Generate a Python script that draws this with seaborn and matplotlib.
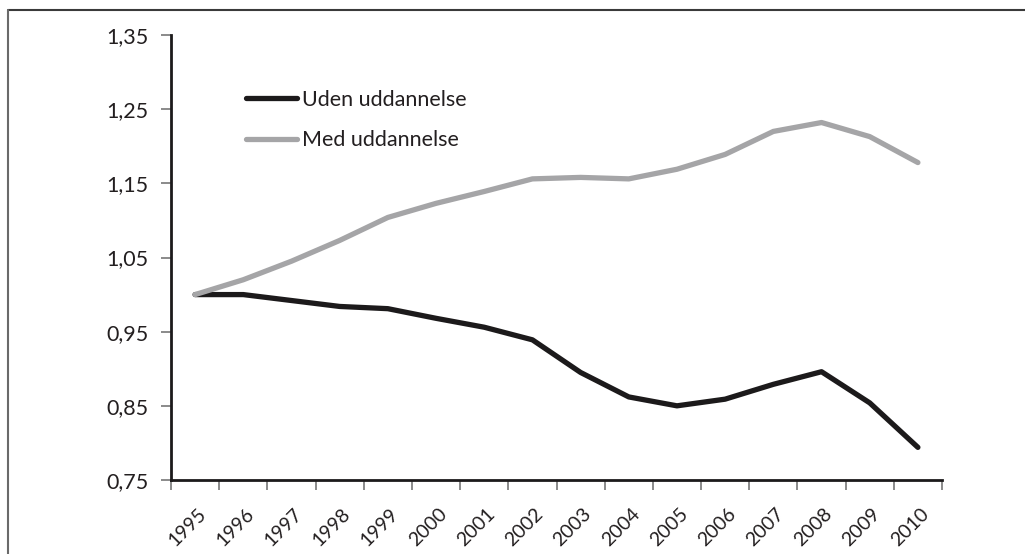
import matplotlib
matplotlib.use("Agg")
import matplotlib.pyplot as plt
from matplotlib.lines import Line2D
from matplotlib.ticker import FixedLocator
from matplotlib.transforms import ScaledTranslation
import numpy as np
import pandas as pd
import seaborn as sns

# Index (1995 = 1) for the two groups
years = [str(y) for y in range(1995, 2011)]
uden_uddannelse = [1.000, 1.000, 0.992, 0.984, 0.981, 0.968, 0.956, 0.939,
                   0.895, 0.862, 0.850, 0.859, 0.879, 0.896, 0.854, 0.794]
med_uddannelse = [1.000, 1.020, 1.045, 1.073, 1.104, 1.123, 1.139, 1.156,
                  1.158, 1.156, 1.169, 1.189, 1.220, 1.232, 1.213, 1.178]
series_names = ["Uden uddannelse", "Med uddannelse"]
y_ticks = [0.75, 0.85, 0.95, 1.05, 1.15, 1.25, 1.35]

df = pd.DataFrame({
    "år": years * 2,
    "indeks": uden_uddannelse + med_uddannelse,
    "gruppe": [series_names[0]] * len(years) + [series_names[1]] * len(years),
})
df["pos"] = df["år"].map({y: i for i, y in enumerate(years)})

sns.set_style("white")
plt.rcParams["font.family"] = ["Lato", "DejaVu Sans"]
text_color = "#231f20"
fs = 15.5

W, H = 1025, 554
fig = plt.figure(figsize=(W / 100, H / 100), dpi=100)
ax = fig.add_axes([171 / W, 1 - 480 / H, (942 - 171) / W, (480 - 35) / H])

colors = {series_names[0]: "#1c1a1b", series_names[1]: "#a5a5a7"}
for name in series_names:
    sub = df[df["gruppe"] == name]
    sns.lineplot(data=sub, x="pos", y="indeks", ax=ax, color=colors[name],
                 linewidth=3.8, label=name, sort=False,
                 solid_capstyle="round", solid_joinstyle="round")

ax.set_xlim(-0.5, len(years) - 0.5)
ax.set_ylim(0.75, 1.35)
ax.set_xlabel("")
ax.set_ylabel("")

# Category labels at centres, tick marks at category boundaries
ax.set_xticks(range(len(years)))
ax.set_xticklabels(years, rotation=45, ha="right", va="top",
                   rotation_mode="anchor", fontsize=14, color=text_color)
ax.tick_params(axis="x", which="major", length=0, pad=18)
shift = ScaledTranslation(2 / 100, 0, fig.dpi_scale_trans)
for lbl in ax.get_xticklabels():
    lbl.set_transform(lbl.get_transform() + shift)
ax.xaxis.set_minor_locator(FixedLocator(np.arange(-0.5, len(years), 1.0)))
ax.tick_params(axis="x", which="minor", length=7, width=1.2, color="#777777",
               direction="out", bottom=True)

ax.set_yticks(y_ticks)
ax.set_yticklabels([f"{v:.2f}".replace(".", ",") for v in y_ticks],
                   fontsize=fs, color=text_color)
ax.tick_params(axis="y", length=7, width=1.2, color="#777777",
               direction="out", left=True, pad=9)

for side in ("top", "right"):
    ax.spines[side].set_visible(False)
for side in ("left", "bottom"):
    ax.spines[side].set_color("#1c1a1b")
    ax.spines[side].set_linewidth(2)

leg = ax.legend(loc="upper left", bbox_to_anchor=(246 / W, 1 - 90 / H),
                bbox_transform=fig.transFigure, frameon=False, fontsize=fs,
                handlelength=2.35, handletextpad=0.25, labelspacing=0.95,
                borderpad=0, borderaxespad=0)
for t in leg.get_texts():
    t.set_color(text_color)
for h in leg.get_lines():
    h.set_solid_capstyle("round")

# Outer frame around the chart
fig.add_artist(Line2D([8 / W, 1.0], [1 - 10 / H, 1 - 10 / H],
                      transform=fig.transFigure, color="#3a3a3a", lw=1.5))
fig.add_artist(Line2D([8 / W, 8 / W], [0.0, 1 - 10 / H],
                      transform=fig.transFigure, color="#6a6a6a", lw=1.5))

fig.savefig("out.png", dpi=100, facecolor="white")
